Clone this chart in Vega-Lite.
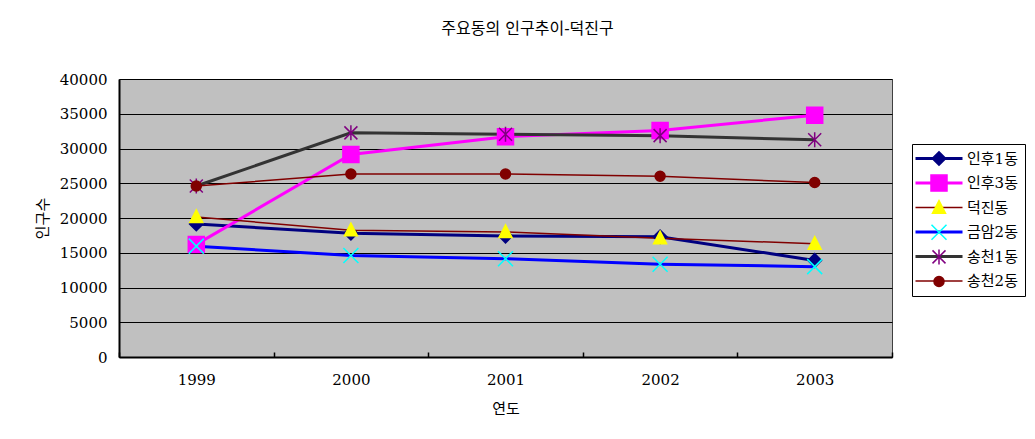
{
  "$schema": "https://vega.github.io/schema/vega-lite/v6.json",
  "autosize": {"type": "none"},
  "padding": {"left": 119, "top": 79, "right": 143, "bottom": 82},
  "width": 773,
  "height": 278,
  "background": "white",
  "title": {"text": "주요동의 인구추이-덕진구", "font": "DejaVu Serif, Noto Sans CJK KR", "fontSize": 16, "fontWeight": "normal", "color": "black", "offset": 35, "dx": 22},
  "config": {
    "view": {"fill": "#C0C0C0", "stroke": "#404040", "strokeWidth": 1},
    "axis": {"labelFont": "DejaVu Serif, Noto Sans CJK KR", "titleFont": "DejaVu Serif, Noto Sans CJK KR", "labelColor": "black", "titleColor": "black", "labelFontSize": 15, "titleFontSize": 15, "titleFontWeight": "normal"}
  },
  "data": {"values": [
    {"year": "1999", "series": "인후1동", "pop": 19150},
    {"year": "2000", "series": "인후1동", "pop": 17800},
    {"year": "2001", "series": "인후1동", "pop": 17400},
    {"year": "2002", "series": "인후1동", "pop": 17300},
    {"year": "2003", "series": "인후1동", "pop": 13900},
    {"year": "1999", "series": "인후3동", "pop": 16200},
    {"year": "2000", "series": "인후3동", "pop": 29150},
    {"year": "2001", "series": "인후3동", "pop": 31700},
    {"year": "2002", "series": "인후3동", "pop": 32600},
    {"year": "2003", "series": "인후3동", "pop": 34800},
    {"year": "1999", "series": "덕진동", "pop": 20150},
    {"year": "2000", "series": "덕진동", "pop": 18250},
    {"year": "2001", "series": "덕진동", "pop": 18000},
    {"year": "2002", "series": "덕진동", "pop": 17100},
    {"year": "2003", "series": "덕진동", "pop": 16300},
    {"year": "1999", "series": "금암2동", "pop": 15950},
    {"year": "2000", "series": "금암2동", "pop": 14600},
    {"year": "2001", "series": "금암2동", "pop": 14150},
    {"year": "2002", "series": "금암2동", "pop": 13350},
    {"year": "2003", "series": "금암2동", "pop": 13000},
    {"year": "1999", "series": "송천1동", "pop": 24600},
    {"year": "2000", "series": "송천1동", "pop": 32250},
    {"year": "2001", "series": "송천1동", "pop": 32050},
    {"year": "2002", "series": "송천1동", "pop": 31850},
    {"year": "2003", "series": "송천1동", "pop": 31250},
    {"year": "1999", "series": "송천2동", "pop": 24600},
    {"year": "2000", "series": "송천2동", "pop": 26330},
    {"year": "2001", "series": "송천2동", "pop": 26330},
    {"year": "2002", "series": "송천2동", "pop": 26000},
    {"year": "2003", "series": "송천2동", "pop": 25100}
  ]},
  "encoding": {
    "x": {"field": "year", "type": "nominal", "scale": {"type": "band", "paddingInner": 0, "paddingOuter": 0},
      "axis": {"title": "연도", "labelAngle": 0, "tickBand": "extent", "tickSize": -5, "tickColor": "black", "tickWidth": 1.5, "domainColor": "black", "domainWidth": 2, "labelPadding": 20, "titlePadding": 14, "grid": false}},
    "y": {"field": "pop", "type": "quantitative", "scale": {"domain": [0, 40000]},
      "axis": {"title": "인구수", "values": [0, 5000, 10000, 15000, 20000, 25000, 30000, 35000, 40000], "format": "d", "ticks": false, "labelPadding": 12, "titlePadding": 9, "domainColor": "black", "domainWidth": 2, "grid": true, "gridColor": "black", "gridWidth": 1, "gridOpacity": 1}}
  },
  "layer": [
    {
      "mark": {"type": "line", "opacity": 1},
      "encoding": {
        "color": {"field": "series", "type": "nominal",
          "scale": {"domain": ["인후1동", "인후3동", "덕진동", "금암2동", "송천1동", "송천2동"], "range": ["#000080", "#FF00FF", "#800000", "#0000FF", "#333333", "#800000"]},
          "legend": {"orient": "none", "legendX": 793, "legendY": 65, "title": null, "symbolType": "M-2.2,0L7.2,0", "symbolSize": 100, "labelOffset": 33, "strokeColor": "black", "fillColor": "white", "padding": 7, "rowPadding": 8.5, "labelFont": "DejaVu Serif, Noto Sans CJK KR", "labelFontSize": 15, "labelColor": "black", "symbolOpacity": 1,
            "encode": {"symbols": {"update": {"strokeWidth": {"scale": "strokeWidth", "field": "value"}}}}}},
        "strokeWidth": {"field": "series", "type": "nominal",
          "scale": {"type": "ordinal", "domain": ["인후1동", "인후3동", "덕진동", "금암2동", "송천1동", "송천2동"], "range": [3, 3, 1.5, 3, 3, 1.5]},
          "legend": null}
      }
    },
    {
      "mark": {"type": "point", "size": 100, "strokeWidth": 1.5, "opacity": 1},
      "encoding": {
        "fill": {"field": "series", "type": "nominal", "sort": null,
          "scale": {"range": ["#000080", "#FF00FF", "#FFFF00", "transparent", "transparent", "#800000"]},
          "legend": {"orient": "none", "legendX": 805.5, "legendY": 65, "title": null, "symbolSize": 100, "symbolStrokeWidth": 1.5, "padding": 7, "rowPadding": 1.6, "gridAlign": "all", "labelExpr": "''", "labelFontSize": 15, "symbolOpacity": 1,
            "encode": {"symbols": {"update": {"fill": {"scale": "fill", "field": "value"}, "stroke": {"scale": "stroke", "field": "value"}}}}}},
        "stroke": {"field": "series", "type": "nominal", "sort": null,
          "scale": {"range": ["#000080", "#FF00FF", "#FFFF00", "#00FFFF", "#800080", "#800000"]},
          "legend": {"orient": "none", "legendX": 805.5, "legendY": 65, "title": null, "symbolSize": 100, "symbolStrokeWidth": 1.5, "padding": 7, "rowPadding": 1.6, "gridAlign": "all", "labelExpr": "''", "labelFontSize": 15, "symbolOpacity": 1,
            "encode": {"symbols": {"update": {"fill": {"scale": "fill", "field": "value"}, "stroke": {"scale": "stroke", "field": "value"}}}}}},
        "shape": {"field": "series", "type": "nominal", "sort": null,
          "scale": {"range": ["M0,-1.35L1.35,0L0,1.35L-1.35,0Z", "M-1.6,-1.6L1.6,-1.6L1.6,1.6L-1.6,1.6Z", "M0,-1.4L1.3,1.1L-1.3,1.1Z", "M-1.5,-1.5L1.5,1.5M-1.5,1.5L1.5,-1.5", "M-1.3,-1.3L1.3,1.3M-1.3,1.3L1.3,-1.3M0,-1.5L0,1.5", "circle"]},
          "legend": {"orient": "none", "legendX": 805.5, "legendY": 65, "title": null, "symbolSize": 100, "symbolStrokeWidth": 1.5, "padding": 7, "rowPadding": 1.6, "gridAlign": "all", "labelExpr": "''", "labelFontSize": 15, "symbolOpacity": 1,
            "encode": {"symbols": {"update": {"fill": {"scale": "fill", "field": "value"}, "stroke": {"scale": "stroke", "field": "value"}}}}}}
      }
    }
  ]
}
